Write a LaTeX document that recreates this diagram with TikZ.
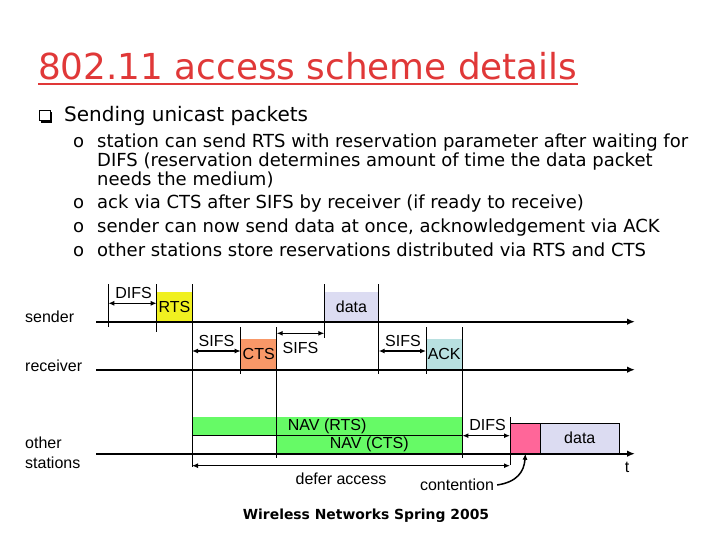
\documentclass[tikz,border=0pt]{standalone}
\usepackage{fontspec}
\setmainfont{DejaVu Sans}
\newfontfamily\arialfont{Liberation Sans}
\usetikzlibrary{arrows.meta}
\definecolor{titlered}{RGB}{224,56,56}
\definecolor{rtsyellow}{RGB}{240,240,32}
\definecolor{ctsorange}{RGB}{248,152,104}
\definecolor{datablue}{RGB}{220,220,242}
\definecolor{ackcyan}{RGB}{184,224,224}
\definecolor{navgreen}{RGB}{102,250,102}
\definecolor{contpink}{RGB}{255,102,153}

\begin{document}
\begin{tikzpicture}[
    x=1pt, y=-1pt,
    lbl/.style={inner sep=0pt, font=\arialfont\fontsize{16}{19.5}\selectfont},
    frame/.style={inner sep=0pt, anchor=south west, font=\arialfont\fontsize{16}{19.5}\selectfont},
    bullet/.style={anchor=base west, inner sep=0pt, font=\fontsize{18}{19}\selectfont},
    axis/.style={line width=1.8pt, -{Latex[length=8pt,width=6.5pt]}},
    tick/.style={line width=0.7pt},
    span/.style={line width=1.4pt, {Latex[length=6pt,width=5pt]}-{Latex[length=6pt,width=5pt]}}
  ]
  \useasboundingbox (0,0) rectangle (720,540);

  \node (title) at (38,80) [anchor=base west, inner sep=0pt, text=titlered,
    font=\fontsize{35.8}{40}\selectfont] {802.11 access scheme details};
  \draw[titlered, line width=2pt] (title.west |- 0,84) -- (title.east |- 0,84);

  \node (qbox) at (45,115.5) [draw, line width=1pt, minimum size=10.5pt, inner sep=0pt] {};
  \draw[line width=1.6pt] (qbox.south west) ++(1.5,1) -- ++(10.5,0) -- ++(0,-10);
  \node (sending) at (64,122) [anchor=base west, inner sep=0pt,
    font=\fontsize{20}{24}\selectfont] {Sending unicast packets};

  \node (o1) at (73,148) [bullet] {o};
  \node (b1a) at (97,148) [bullet] {station can send RTS with reservation parameter after waiting for};
  \node (b1b) at (97,167) [bullet] {DIFS (reservation determines amount of time the data packet};
  \node (b1c) at (97,186) [bullet] {needs the medium)};
  \node (o2) at (73,209) [bullet] {o};
  \node (b2) at (97,209) [bullet] {ack via CTS after SIFS by receiver (if ready to receive)};
  \node (o3) at (73,233) [bullet] {o};
  \node (b3) at (97,233) [bullet] {sender can now send data at once, acknowledgement via ACK};
  \node (o4) at (73,256) [bullet] {o};
  \node (b4) at (97,256) [bullet] {other stations store reservations distributed via RTS and CTS};

  % stations
  \node (sender) at (25,317) [lbl, anchor=west] {sender};
  \node (receiver) at (25,365.7) [lbl, anchor=west] {receiver};
  \node (others) at (25,452.6) [lbl, anchor=west, align=left] {other\\stations};

  % packets
  \node (rts) at (156.7,321.7) [frame, fill=rtsyellow, minimum width=35.3pt, minimum height=30pt] {RTS};
  \node (data) at (324.3,321.7) [frame, fill=datablue, minimum width=54pt, minimum height=30pt] {data};
  \node (cts) at (240.7,369.7) [frame, fill=ctsorange, minimum width=35.6pt, minimum height=30.4pt] {CTS};
  \node (ack) at (426,369.7) [frame, fill=ackcyan, minimum width=36pt, minimum height=30.4pt] {ACK};
  \node (navrts) at (192,435) [frame, fill=navgreen, minimum width=270pt, minimum height=17.7pt] {NAV (RTS)};
  \node (navcts) at (276.3,453.7) [frame, fill=navgreen, minimum width=185.7pt, minimum height=18.7pt] {NAV (CTS)};
  \node (cont) at (510,453.7) [frame, draw, line width=0.6pt, fill=contpink, minimum width=30.3pt, minimum height=30.4pt] {};
  \node (data2) at (540.3,453.7) [frame, draw, line width=0.6pt, fill=datablue, minimum width=78.4pt, minimum height=30.4pt] {data};
  \draw[tick] (navrts.south west) -- (navrts.south east);

  % time axes
  \draw[axis] (96,321.7) -- (635,321.7);
  \draw[axis] (96,369.7) -- (635,369.7);
  \draw[axis] (96,453.7) -- (635,453.7);
  \node (t) at (627,467) [lbl] {t};

  % ticks
  \draw[tick] (108.3,284) -- (108.3,327);
  \draw[tick] (rts.south west) -- (156.7,284) (rts.south west) -- (156.7,332);
  \draw[tick] (192,284) -- (192,467);
  \draw[tick] (cts.south west) -- (240.7,327.3) (cts.south west) -- (240.7,374.3);
  \draw[tick] (276.3,327.3) -- (276.3,458.3);
  \draw[tick] (324.3,284) -- (324.3,338);
  \draw[tick] (378.3,284) -- (378.3,374.3);
  \draw[tick] (ack.south west) -- (426,327.3) (ack.south west) -- (426,374.3);
  \draw[tick] (462,327.3) -- (462,458.3);
  \draw[tick] (cont.north west) -- (510,416.7) (cont.north west) -- (510,465);

  % intervals
  \draw[span] (108.3,303.3) -- (rts.west |- 0,303.3);
  \node (difs1) at (133.5,293) [lbl] {DIFS};
  \draw[span] (192,351) -- (cts.west |- 0,351);
  \node (sifs1) at (216.5,341) [lbl] {SIFS};
  \draw[span] (cts.east |- 0,333.3) -- (data.west |- 0,333.3);
  \node (sifs2) at (300.5,347.5) [lbl] {SIFS};
  \draw[span] (data.east |- 0,351) -- (ack.west |- 0,351);
  \node (sifs3) at (403,341) [lbl] {SIFS};
  \draw[span] (ack.east |- 0,435.7) -- (cont.west |- 0,435.7);
  \node (difs2) at (487.5,425) [lbl] {DIFS};
  \draw[span] (192,465.7) -- (cont.west |- 0,465.7);
  \node (defer) at (341,479) [lbl] {defer access};
  \node (contention) at (457,485) [lbl] {contention};
  \draw[line width=1.5pt, -{Latex[length=6pt,width=5pt]}] (contention.east) ++(3,0)
    .. controls (517,482) and (524,472) .. (cont.south);

  \node (footer) at (366,516) [inner sep=0pt, font=\bfseries\fontsize{13.9}{16}\selectfont]
    {Wireless Networks Spring 2005};
\end{tikzpicture}
\end{document}
